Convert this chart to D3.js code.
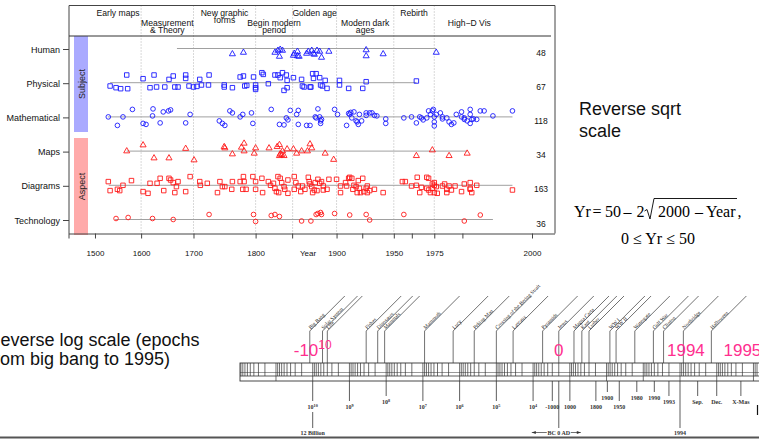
<!DOCTYPE html>
<html><head><meta charset="utf-8">
<script src="https://cdn.jsdelivr.net/npm/d3@7"></script>
<style>html,body{margin:0;padding:0;background:#fff}svg{display:block}</style>
</head><body>
<svg id="c" width="759" height="440"></svg>
<script>
// ---------------- DATA ----------------
const rows = ["Human","Physical","Mathematical","Maps","Diagrams","Technology"];
const counts = [48,67,118,34,163,36];
const rowGroup = ["Subject","Subject","Subject","Aspect","Aspect","Aspect"];
const rowShape = ["triangle","square","circle","triangle","square","circle"];
const rowSpan = [[1670,1976],[1534,1965],[1529,1999],[1570,1989],[1531,1999],[1545,1996]];

// [year, jitter]
const human = [[1765,5.5],[1782,4],[1827,4],[1831,2],[1834,1],[1833,8],[1837,2],[1852,5],[1851,7],[1856,3],[1858,8],[1867,5],[1869,3],[1873,2],[1876,6],[1879,2],[1882,3],[1884,9],[1892,3],[1928,1.5],[1928,7.5],[1942,5.5],[1976,4],[1856,7.5],[1875,5]];
const physical = [[1534,3.3],[1547,5],[1557,6],[1572,6],[1570,-7.7],[1604,-4],[1618,5],[1626,-7.7],[1631,4.3],[1647,4.3],[1663,-6.7],[1655,-3.3],[1666,4.3],[1672,4.3],[1686,-7.7],[1686,-4.3],[1692,3.3],[1700,4.3],[1706,3.7],[1711,-3.3],[1714,2.3],[1726,2.3],[1727,-7.7],[1752,2.3],[1752,4.3],[1765,5],[1777,-5.7],[1782,-6.7],[1784,3.3],[1787,2.7],[1797,-5.7],[1800,2.3],[1800,5],[1800,6.7],[1809,-10],[1811,-8.3],[1818,1],[1827,-7.7],[1831,-7.7],[1837,-10],[1834,-5],[1842,-7.7],[1843,-2.3],[1843,5],[1839,7.7],[1851,-5],[1861,-3.3],[1862,3.3],[1864,4.3],[1872,4.3],[1874,-9],[1878,-9],[1875,-4.3],[1882,-5],[1883,2.3],[1885,3.3],[1888,-2.3],[1890,5.7],[1903,-2.3],[1903,2.3],[1912,5.7],[1928,-1],[1925,5.7],[1965,-1.7],[1871,4.3]];
const mathematical = [[1530,0],[1550,8.5],[1562,0],[1582,-7.5],[1604,6.5],[1610,7.5],[1623,-1],[1624,-8],[1638,6],[1644,-5],[1654,-6],[1658,-7],[1686,6],[1694,-2.5],[1744,4],[1749,6.5],[1753,8.5],[1761,-6],[1765,-4],[1777,0],[1781,-2.5],[1794,-4],[1796,6.5],[1822,-7.5],[1833,7.5],[1839,8],[1842,1],[1847,-6.5],[1855,-2.5],[1857,-6.5],[1857,7.5],[1867,8.5],[1871,8.5],[1880,-8],[1877,0],[1878,1],[1882,0],[1883,4],[1884,2.5],[1883,6.5],[1898,-7.5],[1901,-2.5],[1910,8.5],[1912,-3.5],[1913,-2.5],[1915,1],[1917,-5],[1919,4],[1921,7.5],[1922,-2.5],[1924,4],[1928,-1.5],[1928,-4],[1931,-4],[1933,-4],[1935,-1.5],[1937,-1],[1944,2],[1944,6.5],[1957,1],[1962,0],[1965,6],[1967,0],[1968,1],[1969,3],[1971,1],[1972,-6],[1973,-2.5],[1974,-6],[1974.5,-7.5],[1975,0],[1975,5],[1975,9],[1976,-2.5],[1978,-4],[1979,0],[1979,2],[1981,1],[1982,5],[1983,7.5],[1984,6],[1985,-2.5],[1987,-5],[1987,0],[1988,2.5],[1988,1],[1989,4],[1990,-7.5],[1990,-2.5],[1990,6.5],[1990.5,2.5],[1991,2],[1992,2.5],[1993,-6],[1994,-6],[1996,-1],[1999,-6],[1844,3],[1914,-4.5],[1920,5]];
const maps = [[1570,0],[1604,-6],[1626,7],[1655,7],[1686,-2.5],[1701,9],[1752,-4.3],[1753,-3],[1765,3],[1779,-3.7],[1783,-7.7],[1783,0],[1798,2.3],[1800,-3],[1819,-3],[1830,-4.3],[1833,-6.3],[1833,4.7],[1837,0],[1839,4.7],[1843,-2],[1851,-2],[1855,2.3],[1861,0],[1868,0],[1871,-7],[1873,-3],[1888,2.3],[1897,8.5],[1834,3],[1836,3.7],[1965,4.7],[1974,-1],[1982,4.7],[1989,2.3]];
const diagrams = [[1530,-3.7],[1534,5.3],[1550,4],[1555,5.3],[1562,0],[1580,-4.7],[1604,6.3],[1614,8],[1618,-2],[1632,-2],[1638,-7],[1645,5.3],[1655,-7],[1658,-5.3],[1663,-2.7],[1666,7.3],[1669,1.3],[1672,-3.7],[1686,6.3],[1694,-8.7],[1711,-3.7],[1712,0],[1724,-2],[1741,7.3],[1745,-3.7],[1749,1.3],[1753,1.3],[1764,4],[1765,-3.7],[1777,-3.7],[1781,4],[1782,-8.7],[1783,-3.7],[1786,4],[1796,-8.7],[1800,-3.7],[1800,4],[1810,7.3],[1809,-7],[1818,-3.7],[1821,0],[1825,-2],[1827,3],[1829,6.3],[1832,7.3],[1831,-8.7],
[1834,-7],[1836,-2.7],[1839,1.3],[1840,4],[1844,-5.3],[1844,8],[1852,-8.7],[1852,4],[1854,-2.7],[1857,0.7],[1860,6.3],[1862,0.7],[1865,4],[1869,-8],[1870,-3.7],[1871,-1.3],[1873,1.3],[1874,7.3],[1876,4.7],[1877,-2.7],[1879,5.3],[1880,-6],[1882,-2],[1884,-3.7],[1886,4.7],[1886,0.7],[1890,4],[1892,-6],[1900,-6],[1904,0.7],[1904,7.3],[1909,-2.7],[1910,0.7],[1912,-7],[1913,-8],[1915,-7],[1916,4],[1917,0],[1919,1.3],[1920,7.3],[1921,-4.7],[1922,3],[1923,7.3],[1925,-7],[1926,6.3],[1928,3],[1929,0.7],[1929,7.3],[1931,5.3],[1935,4],[1942,7.3],[1956,-3.7],[1958,-3.7],[1962,0.7],[1965,0],[1965.5,-8],[1967,7.3],[1968,2],[1971,-8],[1971,3],[1972,4.7],[1972,-7],[1973,7.3],[1974,3],[1974,-1.3],[1975,-2.7],[1975,7.3],[1975,0],[1976,1.3],[1976.5,8],[1979,0.7],[1980,-1.3],[1981,7.3],[1981,4],[1982,0.7],[1983,4.7],[1984.5,0.7],[1987,6.3],[1988,-1.3],[1990,3],[1990,-2.7],[1990,4],[1990.5,7.3],[1992,0],[1999,4.7]];
const technology = [[1547,-1],[1573,-2],[1623,-1],[1663,0],[1727,-5],[1797,-5],[1800,2],[1822,-4],[1827,-5],[1833,-3],[1861,1.5],[1872,1.5],[1878,-5],[1880,-6],[1883,-7],[1884,-5],[1898,-6],[1913,-4.5],[1928,-5],[1931,0.5],[1957,-5],[1988,1.5],[1993,-4.5]];
const rowData = [human, physical, mathematical, maps, diagrams, technology];

const yearTicks = [1500,1600,1700,1800,1900,1950,1975,2000];
const minorYearTicks = [1850,1925,1962.5,1987.5];
const periodBreaks = [1600,1700,1800,1850,1900,1950,1975];
// [label lines, from, to, level]
const periods = [
  [["Early maps"],1500,1600,0],
  [["Measurement","& Theory"],1600,1700,1],
  [["New graphic","forms"],1700,1800,0],
  [["Begin modern","period"],1800,1850,1],
  [["Golden age"],1850,1900,0],
  [["Modern dark","ages"],1900,1950,1],
  [["Rebirth"],1950,1975,0],
  [["High\u2212D Vis"],1975,1998,1]
];

// Log timeline (years before 1995)
const epochTicks = [["10","10",1e10,0],["10","9",1e9,0],["10","8",1e8,2],["10","7",1e7,0],["10","6",1e6,0],["10","5",1e5,0],["10","4",1e4,0],
  ["-1000","",2995,0],["1000","",995,0],["1800","",195,0],["1900","",95,1],["1950","",45,0],["1980","",15,1],["1990","",5,1],["1993","",2,2],
  ["Sep.","",0.33,2],["Dec.","",0.1,2],["X-Mas","",0.022,2]];
const epochLong = [["12 Billion",1e10],["BC 0 AD",1995],["1994",1]];
const epochEvents = [["Big Bang",1.2e10],["Solar System",5.4e9],["Life",4e9],["Fishes",3.5e8],["Dinosaurs",1.7e8],["Mammals",1.1e8],
  ["Mammoth",9e6],["Lucy",1.5e6],["Peking Man",4e5],["Crossing of the Bering Strait",1e5],["Lascaux",3.5e4],["Pyramids",5.5e3],
  ["Jesus",1995],["Magna Carta",770],["Kant",470],["Luther",300],["WW I",81],["WW II",55],["Watergate",17],["Gulf War",5.3],
  ["Clinton",2.8],["Northridge",0.81],["Halloween",0.14]];
const epochMarks = [["-10","10",1e10],["0","",1995],["1994","",0.69],["1995","",0.02]];

// ---------------- DRAW ----------------
(function(){
const svg = d3.select("#c");
const SANS = "'Liberation Sans', Arial, Helvetica, sans-serif";
const SERIF = "'Liberation Serif', 'Times New Roman', serif";
const yr = y => 50 - 2*Math.sqrt(2000 - y);
const xr = d3.scaleLinear().domain([0,50]).range([43.4,532]);
const X = y => xr(yr(y));
const Y = d3.scalePoint().domain(rows).range([48.5,219.5]);
const J = d3.scaleLinear().domain([-10,10]).range([-10,10]);
const blue = "#1a1aff", red = "#ff1a1a";
const colorOf = g => g === "Subject" ? blue : red;

const pL = 69, pR = 555, pT = 5.5, headerY = 36, pB = 233.5;

// group bars
const groups = [["Subject",36,132,"#aaaaff"],["Aspect",138,235,"#ffaaaa"]];
groups.forEach(([name,y0,y1,fill])=>{
  svg.append("rect").attr("x",74).attr("y",y0).attr("width",14).attr("height",y1-y0).attr("fill",fill);
  svg.append("text").attr("transform",`translate(84.5,${(y0+y1)/2}) rotate(-90)`)
    .attr("text-anchor","middle").attr("font-family",SANS).attr("font-size",9).attr("fill","#222").text(name);
});

// dotted period separators
svg.append("g").selectAll("line").data(periodBreaks).join("line")
  .attr("x1",d=>X(d)).attr("x2",d=>X(d)).attr("y1",pT).attr("y2",pB)
  .attr("stroke","#aaa").attr("stroke-width",0.9).attr("stroke-dasharray","1,2");

// frame
svg.append("path").attr("d",`M${pL},${pB+5}V${pT}H${pR}V${pB}`).attr("fill","none").attr("stroke","#444").attr("stroke-width",1);
svg.append("line").attr("x1",pL).attr("x2",551).attr("y1",headerY).attr("y2",headerY).attr("stroke","#333").attr("stroke-width",1);

// period labels (one text element per label, lines as tspans)
periods.forEach(([lines,a,b,lvl])=>{
  const cx = (X(a)+X(b))/2;
  const y0 = lvl===0 ? 15.5 : 25.5;
  const t = svg.append("text").attr("x",cx).attr("y",y0).attr("text-anchor","middle")
      .attr("font-family",SANS).attr("font-size",8.6).attr("fill","#111");
  lines.forEach((s,i)=>{
    t.append("tspan").attr("x",cx).attr("dy",i===0?0:7.8).text(s);
  });
});

// row lines, left ticks, labels, counts
rows.forEach((r,i)=>{
  const [a,b] = rowSpan[i];
  svg.append("line").attr("x1",X(a)).attr("x2",X(b)).attr("y1",Y(r)).attr("y2",Y(r)).attr("stroke","#a0a0a0").attr("stroke-width",1);
  svg.append("line").attr("x1",63).attr("x2",pL).attr("y1",Y(r)+1).attr("y2",Y(r)+1).attr("stroke","#444");
  svg.append("text").attr("x",60).attr("y",Y(r)+4).attr("text-anchor","end").attr("font-family",SANS).attr("font-size",9).attr("fill","#111").text(r);
  svg.append("text").attr("x",541).attr("y",Y(r)+7).attr("text-anchor","middle").attr("font-family",SANS).attr("font-size",8.5).attr("fill","#111").text(counts[i]);
});

// points
const sym = {triangle:[d3.symbolTriangle,16], square:[d3.symbolSquare,20], circle:[d3.symbolCircle,17]};
rows.forEach((r,i)=>{
  const [type,size] = sym[rowShape[i]];
  const gen = d3.symbol().type(type).size(size);
  svg.append("g").selectAll("path").data(rowData[i]).join("path")
    .attr("d",gen)
    .attr("transform",d=>`translate(${X(d[0])},${Y(r)+J(d[1])})`)
    .attr("fill","none").attr("stroke",colorOf(rowGroup[i])).attr("stroke-width",0.9);
});

// bottom axis
const ax = d3.axisBottom(xr).tickValues(yearTicks.map(yr)).tickFormat((d,i)=>yearTicks[i]).tickSize(5).tickPadding(12);
const axg = svg.append("g").attr("transform",`translate(0,${pB})`).call(ax);
axg.select(".domain").attr("d",`M${pL},0.5H${pR}`).attr("stroke","#444");
axg.selectAll(".tick line").attr("stroke","#444");
axg.selectAll(".tick text").attr("font-family",SANS).attr("font-size",8).attr("fill","#111");
svg.append("g").selectAll("line").data(minorYearTicks).join("line")
  .attr("x1",d=>X(d)).attr("x2",d=>X(d)).attr("y1",pB).attr("y2",pB+5).attr("stroke","#444");
svg.append("text").attr("x",308).attr("y",256).attr("text-anchor","middle").attr("font-family",SANS).attr("font-size",8).attr("fill","#111").text("Year");

// right-side annotations
svg.append("text").attr("x",579).attr("y",115).attr("font-family",SANS).attr("font-size",18).attr("fill","#111").text("Reverse sqrt");
svg.append("text").attr("x",579).attr("y",137).attr("font-family",SANS).attr("font-size",18).attr("fill","#111").text("scale");
const f = svg.append("g").attr("font-family",SERIF).attr("font-size",16).attr("fill","#000");
[["Yr",574],["=",592.5],["50",605],["\u2013",623.5],["2",636.5],["2000",658],["\u2013",695],["Year",706],[",",737.5]].forEach(([t,x])=>{
  f.append("text").attr("x",x).attr("y",217).text(t);
});
f.append("path").attr("d","M644.5,211L647,209.5L650,219L654,198.5H737").attr("fill","none").attr("stroke","#000").attr("stroke-width",0.9);
f.append("text").attr("x",658).attr("y",244).attr("text-anchor","middle").text("0 \u2264 Yr \u2264 50");

// bottom: reverse log scale text
svg.append("text").attr("x",-12.5).attr("y",346).attr("font-family",SANS).attr("font-size",18).attr("fill","#111").text("Reverse log scale (epochs");
svg.append("text").attr("x",-11).attr("y",365).attr("font-family",SANS).attr("font-size",18).attr("fill","#111").text("from big bang to 1995)");

// log timeline
const ep = d3.scaleLog().domain([1e10,1]).range([312.7,680]);
const barTop = 363, barBot = 381, barMid = 376;
const tl = svg.append("g").attr("stroke","#333").attr("fill","none");
tl.append("rect").attr("x",240).attr("y",barTop).attr("width",530).attr("height",barBot-barTop).attr("stroke-width",0.9);
tl.append("line").attr("x1",240).attr("x2",770).attr("y1",barMid).attr("y2",barMid).attr("stroke-width",0.8);
tl.append("line").attr("x1",240).attr("x2",770).attr("y1",372.5).attr("y2",372.5).attr("stroke-width",0.5);
const logTicks = [];
for (let e=-3; e<=11; e++) for (let k=1;k<=9;k++){ const v=k*Math.pow(10,e); const x=ep(v); if (x>=240 && x<=759) logTicks.push([v,k]); }
tl.append("g").selectAll("line").data(logTicks).join("line")
  .attr("x1",d=>ep(d[0])).attr("x2",d=>ep(d[0])).attr("y1",barTop).attr("y2",d=>d[1]===1?barBot:barMid)
  .attr("stroke-width",0.7);

// tick labels below bar
const lvlY = [407, 398, 402];
const tk = svg.append("g").attr("font-family",SERIF).attr("font-size",6).attr("font-weight","bold").attr("fill","#333");
epochTicks.forEach(([t,sup,v,l])=>{
  const x = ep(v), y = lvlY[l];
  svg.append("line").attr("x1",x).attr("x2",x).attr("y1",barBot).attr("y2",y-6).attr("stroke","#333").attr("stroke-width",0.8);
  const tx = tk.append("text").attr("x",x).attr("y",y+2).attr("text-anchor","middle");
  tx.append("tspan").text(t);
  if (sup) tx.append("tspan").attr("dy",-2.5).attr("font-size",4.2).text(sup);
});
epochLong.forEach(([t,v])=>{
  const x = ep(v);
  svg.append("line").attr("x1",x).attr("x2",x).attr("y1",t==="12 Billion"?412:barBot).attr("y2",428).attr("stroke","#333").attr("stroke-width",0.8);
  tk.append("text").attr("x",x).attr("y",435).attr("text-anchor","middle").text(t);
});
const bc = ep(1995);
svg.append("path").attr("d",`M${bc-27},432.5H${bc-12}M${bc+12},432.5H${bc+22}`).attr("stroke","#333").attr("stroke-width",0.7);
svg.append("path").attr("d",`M${bc-27},432.5l4,-1.5v3zM${bc+22},432.5l-4,-1.5v3z`).attr("fill","#333");

// events above bar
const vTop = 331, diag = 35;
const evg = svg.append("g");
epochEvents.forEach(([t,v])=>{
  const x = ep(v);
  evg.append("path").attr("d",`M${x},${barTop}V${vTop}l${diag},${-diag}`).attr("fill","none").attr("stroke","#333").attr("stroke-width",0.7);
  evg.append("text").attr("transform",`translate(${x+1},${vTop-1.5}) rotate(-45)`)
    .attr("font-family",SERIF).attr("font-size",5.3).attr("fill","#222").text(t);
});

// pink markers
const pink = "#ff2f8f";
epochMarks.forEach(([t,sup,v])=>{
  const x = ep(v);
  const tx = svg.append("text").attr("x",x).attr("y",356).attr("text-anchor","middle").attr("font-family",SANS).attr("font-size",17).attr("fill",pink);
  tx.append("tspan").text(t);
  if (sup) tx.append("tspan").attr("dy",-7).attr("font-size",12).text(sup);
});

// footer line and edge mark
svg.append("line").attr("x1",0).attr("x2",759).attr("y1",437.5).attr("y2",437.5).attr("stroke","#555").attr("stroke-width",2);
svg.append("line").attr("x1",757.5).attr("x2",757.5).attr("y1",405).attr("y2",415).attr("stroke","#111").attr("stroke-width",1.2);
})();
</script>
</body></html>
